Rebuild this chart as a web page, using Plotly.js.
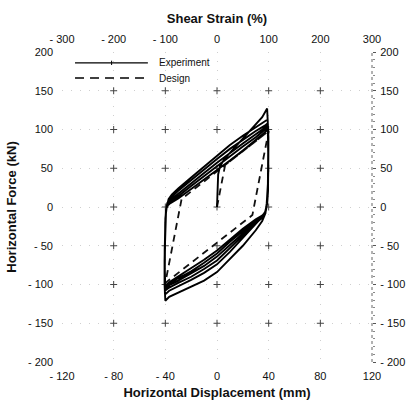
<!DOCTYPE html>
<html>
<head>
<meta charset="utf-8">
<script src="https://cdn.plot.ly/plotly-3.0.1.min.js"></script>
<style>
  html, body { margin: 0; padding: 0; background: #fff; }
  #chart { width: 408px; height: 410px; }
</style>
</head>
<body>
<div id="chart"></div>
<script>
// Lead-rubber bearing hysteresis: measured cycles vs. bilinear design model
const seriesNames = ['Experiment', 'Design'];

// Measured force-displacement path (initial loading, then repeated ±40 mm cycles)
const expDisp = [
  0, 0.3, 0.9, 2.2, 5, 10, 15, 20, 25, 30, 35, 38.8,
  39.3, 39.6, 39.4, 38.5, 37.5, 35, 30, 20, 10, 0, -10, -20, -30, -37, -40,
  -40.6, -40.6, -40.4, -40, -39.2, -37.5, -35, -30, -20, -10, 0, 10, 20, 30, 37, 39.2,
  39.7, 39.8, 39.5, 39, 38, 36, 30, 20, 10, 0, -10, -20, -30, -37, -40.3,
  -40.6, -40.5, -40.2, -39.6, -38.5, -36, -30, -20, -10, 0, 10, 20, 30, 37, 39.3,
  39.8, 39.8, 39.5, 38.9, 37.8, 35.5, 30, 20, 10, 0, -10, -20, -30, -37, -40.3,
  -40.6, -40.5, -40.2, -39.6, -38.5, -36, -30, -20, -10, 0, 10, 20, 30, 37, 39.4,
  39.8, 39.8, 39.4, 38.8, 37.6, 35.3, 30, 20, 10, 0, -10, -20, -30, -37, -40.3,
  -40.6, -40.4, -40.1, -39.5, -38.4, -36, -30, -20, -10, 0, 10, 20, 30, 37, 39.4,
  39.8, 39.7, 39.3, 38.6, 37.4, 35, 30, 20, 10, 0, -10, -20, -30, -37, -40.2,
  -40.5, -40.3, -40, -39.4, -38.2, -36, -30, -20, -10, 0, 10, 20, 30, 37, 39.5,
  39.8, 39.7, 39.2, 38.4, 37.2, 35, 30, 20, 10, 0, -10, -20, -30, -37, -40.1,
  -40.4, -40.2, -39.8, -39, -37.5
];
const expForce = [
  0, 22, 42, 52, 60, 70, 79, 88, 97, 106, 116, 127,
  110, 70, 30, 5, -8, -18, -30, -50, -67, -84, -95, -103, -110, -116, -121,
  -100, -70, -40, -15, -2, 10, 16, 24, 38, 52, 67, 80, 92, 103, 110, 113,
  95, 60, 25, 8, -3, -11, -22, -40, -58, -74, -85, -94, -102, -108, -113,
  -95, -60, -25, -6, 5, 12, 21, 35, 48, 62, 75, 87, 98, 105, 108,
  90, 55, 20, 5, -5, -13, -21, -37, -53, -69, -80, -90, -98, -104, -108,
  -90, -55, -22, -5, 4, 9, 17, 31, 44, 57, 70, 82, 94, 102, 105,
  85, 50, 18, 4, -6, -13, -20, -34, -49, -64, -76, -86, -95, -101, -106,
  -88, -52, -20, -4, 3, 7, 14, 27, 40, 52, 65, 78, 90, 99, 103,
  84, 48, 16, 3, -6, -12, -18, -31, -45, -60, -72, -83, -92, -99, -104,
  -86, -50, -18, -3, 2, 5, 11, 23, 35, 47, 60, 73, 86, 96, 101,
  82, 46, 14, 2, -7, -11, -16, -28, -42, -56, -68, -79, -89, -97, -102,
  -80, -40, -12, -1, 6
];

// Bilinear design loop vertices
const designDisp  = [0, 6.3, 40, 27.4, -40, -27.4, 40];
const designForce = [0, 54.2, 98, -10.4, -98, 10.4, 98];

// Axis ticks
const dispTicks   = [-120, -80, -40, 0, 40, 80, 120];
const forceTicks  = [-200, -150, -100, -50, 0, 50, 100, 150, 200];
const strainTicks = [-300, -200, -100, 0, 100, 200, 300];

const label = v => (v < 0 ? '- ' + Math.abs(v) : String(v));

// small "+" marks where the interior grid lines cross
const crossX = [], crossY = [];
dispTicks.slice(1, -1).forEach(x => forceTicks.slice(1, -1).forEach(y => { crossX.push(x); crossY.push(y); }));

const FONT = 'Liberation Sans, Arial, sans-serif';
const tickFont = { family: FONT, size: 11, color: '#111' };
const titleFont = { family: FONT, size: 13, color: '#111', weight: 700 };

const traces = [
  {
    x: crossX, y: crossY, type: 'scatter', mode: 'markers', hoverinfo: 'skip', showlegend: false,
    marker: { symbol: 'cross-thin-open', size: 5, color: '#444', line: { color: '#444', width: 1 } }
  },
  {
    x: designDisp, y: designForce, name: seriesNames[1], type: 'scatter', mode: 'lines', showlegend: false,
    line: { color: '#111', width: 1.8, dash: '7px,5px' }
  },
  {
    x: expDisp, y: expForce, name: seriesNames[0], type: 'scatter', mode: 'lines', showlegend: false,
    line: { color: '#000', width: 1.9 }
  },
  {
    x: [], y: [], xaxis: 'x2', yaxis: 'y2', type: 'scatter', mode: 'lines', showlegend: false, hoverinfo: 'skip'
  }
];

const gridStyle = { showgrid: true, gridcolor: '#cfcfcf', gridwidth: 1, griddash: '1px,8px' };

const layout = {
  width: 408, height: 410, autosize: false,
  margin: { l: 62, r: 36, t: 52, b: 48 },
  paper_bgcolor: '#fff', plot_bgcolor: '#fff',
  showlegend: false,
  font: { family: FONT, color: '#111' },
  xaxis: Object.assign({
    range: [-120, 120], tickmode: 'array', tickvals: dispTicks, ticktext: dispTicks.map(label),
    zeroline: false, showline: false, ticks: '', tickfont: tickFont, ticklabelstandoff: 6,
    title: { text: 'Horizontal Displacement (mm)', font: titleFont, standoff: 6 }
  }, gridStyle),
  yaxis: Object.assign({
    range: [-200, 200], tickmode: 'array', tickvals: forceTicks, ticktext: forceTicks.map(label),
    zeroline: false, showline: false, ticks: '', tickfont: tickFont, ticklabelstandoff: 8,
    title: { text: 'Horizontal Force (kN)', font: titleFont, standoff: 8 }
  }, gridStyle),
  xaxis2: {
    overlaying: 'x', side: 'top', anchor: 'y', range: [-300, 300],
    tickmode: 'array', tickvals: strainTicks, ticktext: strainTicks.map(label),
    showgrid: false, zeroline: false, showline: false, ticks: '', tickfont: tickFont, ticklabelstandoff: 6,
    title: { text: 'Shear Strain (%)', font: titleFont, standoff: 6 }
  },
  yaxis2: {
    overlaying: 'y', side: 'right', anchor: 'x', range: [-200, 200],
    tickmode: 'array', tickvals: forceTicks, ticktext: forceTicks.map(label),
    showgrid: false, zeroline: false, showline: false,
    ticks: 'outside', ticklen: 3, tickcolor: '#555', tickfont: tickFont, ticklabelstandoff: 2,
    minor: { ticks: 'outside', ticklen: 2, tickcolor: '#888', dtick: 10 }
  },
  shapes: [
    // right-hand force axis drawn as a dotted rule
    { type: 'line', xref: 'paper', yref: 'paper', x0: 1, x1: 1, y0: 0, y1: 1,
      line: { color: '#666', width: 1, dash: 'dot' } },
    // key samples
    { type: 'line', xref: 'paper', yref: 'paper', x0: 0.042, x1: 0.277, y0: 0.965, y1: 0.965,
      line: { color: '#000', width: 1.2 } },
    { type: 'line', xref: 'paper', yref: 'paper', x0: 0.16, x1: 0.16, y0: 0.958, y1: 0.972,
      line: { color: '#000', width: 1 } },
    { type: 'line', xref: 'paper', yref: 'paper', x0: 0.042, x1: 0.277, y0: 0.916, y1: 0.916,
      line: { color: '#000', width: 1.6, dash: '9px,6px' } }
  ],
  annotations: [
    { xref: 'paper', yref: 'paper', x: 0.306, y: 0.965, xanchor: 'left', yanchor: 'middle',
      text: seriesNames[0], showarrow: false, font: { family: FONT, size: 10, color: '#111' } },
    { xref: 'paper', yref: 'paper', x: 0.306, y: 0.916, xanchor: 'left', yanchor: 'middle',
      text: seriesNames[1], showarrow: false, font: { family: FONT, size: 10, color: '#111' } }
  ]
};

Plotly.newPlot('chart', traces, layout, { displayModeBar: false, staticPlot: true });
</script>
</body>
</html>
